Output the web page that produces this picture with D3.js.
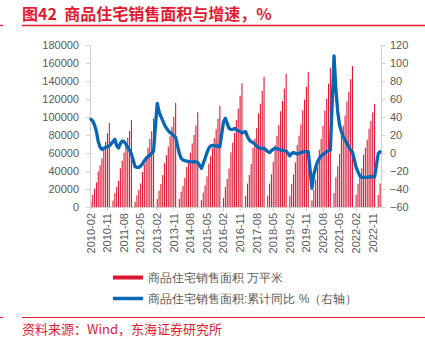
<!DOCTYPE html>
<html>
<head>
<meta charset="utf-8">
<script src="https://cdn.jsdelivr.net/npm/d3@7"></script>
<style>
  body { margin: 0; background: #fff; }
  svg { display: block; }
  text { font-family: "Liberation Sans", Arial, sans-serif; }
  .cjk { font-family: "Noto Sans CJK SC", sans-serif; }
</style>
</head>
<body>
<div id="chart"></div>
<script>
// 商品住宅销售面积（累计，万平米），每年2月至12月；1月无单独数据
const salesArea = [
  [6200, 13400, 20500, 27300, 39700, 46400, 54200, 64000, 72600, 81800, 93377],          // 2010
  [7000, 15400, 22200, 29200, 43000, 51600, 60500, 69700, 77100, 84400, 96528],          // 2011
  [5900, 12900, 18800, 26200, 39000, 47300, 56000, 66000, 75500, 84400, 98468],          // 2012
  [9100, 18100, 25600, 35600, 48700, 57700, 67100, 78500, 89000, 100400, 115723],        // 2013
  [9000, 17000, 23400, 32400, 44400, 52100, 60400, 70600, 80100, 90300, 105188],         // 2014
  [7500, 16100, 24000, 34000, 48100, 56500, 65200, 76500, 86500, 97900, 112412],         // 2015
  [10100, 22200, 31200, 42800, 60700, 71500, 82000, 96500, 109300, 123700, 137540],      // 2016
  [12500, 26000, 35600, 47700, 65600, 76000, 87700, 104000, 114800, 128900, 144789],     // 2017
  [12700, 26000, 36400, 50000, 68800, 79200, 91000, 106400, 117800, 131600, 147929],     // 2018
  [12300, 25900, 36300, 49700, 68800, 79400, 91600, 107500, 119400, 133800, 150144],     // 2019
  [7400, 19200, 30300, 44700, 63600, 75500, 90000, 107100, 120100, 137100, 154878],      // 2020
  [15400, 33000, 45300, 59000, 79300, 90300, 101700, 117000, 128000, 142000, 156532],    // 2021
  [13300, 25900, 33700, 43000, 58000, 65900, 74700, 87000, 95600, 105000, 114631],       // 2022
  [13200, 26200]                                                                         // 2023
];

// 累计同比 %（右轴）
const yoyGrowth = [
  [37.4, 35.6, 31, 23.7, 12.6, 6.3, 4.1, 5.2, 6.3, 7, 8.0],
  [12.6, 15.2, 8, 5.5, 10.7, 13.3, 12.6, 10, 6.3, 3.3, -1.1],
  [-15.2, -16, -16, -14.4, -12.2, -8.5, -5.9, -4, -2.2, -0.4, 2.0],
  [55.2, 45.9, 40.4, 36, 31.1, 27.4, 24.8, 22.6, 21.1, 18.9, 17.5],
  [-0.5, -5.9, -7.8, -8.5, -8.9, -9.6, -9.6, -10, -9.6, -10, -10.5],
  [-17, -11.5, -5.9, 0.4, 5.2, 7.8, 8.5, 7.8, 7.8, 7.8, 6.9],
  [34.8, 38.5, 33, 27.4, 26.3, 26.3, 27.4, 25.6, 24.8, 23.7, 22.4],
  [23.7, 18.1, 14.4, 12.6, 11.5, 10, 7.8, 6.3, 5.2, 5.2, 5.3],
  [1.5, 0.4, 2.6, 4.1, 5.2, 4.8, 4.1, 3.3, 3.3, 2.6, 2.2],
  [-3.2, -0.4, 0.4, -0.4, -1.1, -0.4, 0.4, 1.1, 1.5, 1.5, 1.5],
  [-39.2, -24, -16, -10, -6, -3.3, -1.5, -0.4, 1.5, 2.6, 3.2],
  [108, 70, 45.9, 31.1, 23.7, 18.1, 14.4, 10.7, 7, 3.3, 1.1],
  [-16, -21, -25.5, -27, -27, -27.2, -27, -26.5, -26.2, -26.5, -26.8],
  [-0.6, 1.4]
];

const startYear = 2010;
const tickLabels = ["2010-02", "2010-11", "2011-08", "2012-05", "2013-02", "2013-11",
  "2014-08", "2015-05", "2016-02", "2016-11", "2017-08", "2018-05", "2019-02",
  "2019-11", "2020-08", "2021-05", "2022-02", "2022-11"];
const leftTicks = d3.range(0, 180001, 20000);
const rightTicks = d3.range(-60, 121, 20);

// 按月展开：1月留空
const rows = [];
salesArea.forEach((vals, k) => {
  const year = startYear + k;
  if (k > 0) rows.push({ month: `${year}-01`, area: null, yoy: null });
  vals.forEach((v, j) => {
    const m = String(j + 2).padStart(2, "0");
    rows.push({ month: `${year}-${m}`, area: v, yoy: yoyGrowth[k][j] });
  });
});

const W = 425, H = 339;
const plotL = 90, plotR = 381, plotT = 45, plotB = 207;
const red = "#dc1530", blue = "#0866b6", gray = "#595959", axisGray = "#d0d0d0";

const svg = d3.select("#chart").append("svg").attr("width", W).attr("height", H);

// 标题
svg.append("text").attr("class", "cjk")
  .attr("x", 22).attr("y", 20)
  .attr("fill", "#e21a32").attr("font-size", 16).attr("font-weight", "bold")
  .style("white-space", "pre")
  .text("图42  商品住宅销售面积与增速，%");
svg.append("line").attr("x1", 22).attr("x2", W).attr("y1", 25.5).attr("y2", 25.5)
  .attr("stroke", "#e21a32").attr("stroke-width", 1.3);
svg.append("line").attr("x1", 0).attr("x2", 3).attr("y1", 25.5).attr("y2", 25.5)
  .attr("stroke", "#e21a32").attr("stroke-width", 1.3);

const x = d3.scaleBand().domain(rows.map(d => d.month)).range([plotL, plotR]).paddingInner(0.42).paddingOuter(0.2);
const yL = d3.scaleLinear().domain([0, 180000]).range([plotB, plotT]);
const yR = d3.scaleLinear().domain([-60, 120]).range([plotB, plotT]);

// 柱：销售面积
svg.append("g").selectAll("rect")
  .data(rows.filter(d => d.area != null))
  .join("rect")
  .attr("x", d => x(d.month))
  .attr("width", x.bandwidth())
  .attr("y", d => yL(d.area))
  .attr("height", d => yL(0) - yL(d.area))
  .attr("fill", red);

// 坐标轴
const styleAxis = g => {
  g.select(".domain").attr("stroke", axisGray);
  g.selectAll(".tick line").attr("stroke", axisGray);
  g.selectAll(".tick text").attr("fill", gray).attr("font-size", 11);
};

svg.append("g").attr("transform", `translate(${plotL},0)`)
  .call(d3.axisLeft(yL).tickValues(leftTicks).tickSize(4).tickSizeOuter(0).tickPadding(7).tickFormat(d3.format("d")))
  .call(styleAxis);

svg.append("g").attr("transform", `translate(${plotR},0)`)
  .call(d3.axisRight(yR).tickValues(rightTicks).tickSize(4).tickSizeOuter(0).tickPadding(5))
  .call(styleAxis);

const xAxis = svg.append("g").attr("transform", `translate(0,${plotB})`)
  .call(d3.axisBottom(x).tickValues(tickLabels).tickSize(4).tickSizeOuter(0).tickPadding(6))
  .call(styleAxis);
xAxis.selectAll(".tick text")
  .attr("transform", "rotate(-90)")
  .attr("text-anchor", "end")
  .attr("dy", "0.35em")
  .attr("x", -6).attr("y", 0);

// 折线：累计同比
const line = d3.line()
  .x(d => x(d.month) + x.bandwidth() / 2)
  .y(d => yR(d.yoy));
svg.append("path")
  .datum(rows.filter(d => d.yoy != null))
  .attr("d", line)
  .attr("fill", "none")
  .attr("stroke", blue)
  .attr("stroke-width", 3.3)
  .attr("stroke-linejoin", "round")
  .attr("stroke-linecap", "round");

// 图例
const legend = svg.append("g").attr("class", "cjk");
legend.append("rect").attr("x", 113).attr("y", 275.5).attr("width", 30).attr("height", 4).attr("fill", red);
legend.append("text").attr("x", 148).attr("y", 281.5).attr("font-size", 12).attr("fill", gray)
  .text("商品住宅销售面积 万平米");
legend.append("line").attr("x1", 113).attr("x2", 143).attr("y1", 298.5).attr("y2", 298.5)
  .attr("stroke", blue).attr("stroke-width", 3.5);
legend.append("text").attr("x", 148).attr("y", 302.5).attr("font-size", 12).attr("fill", gray)
  .text("商品住宅销售面积:累计同比 %（右轴）");

// 资料来源
svg.append("line").attr("x1", 22).attr("x2", W).attr("y1", 317.5).attr("y2", 317.5)
  .attr("stroke", "#e21a32").attr("stroke-width", 1);
svg.append("line").attr("x1", 0).attr("x2", 3).attr("y1", 317.5).attr("y2", 317.5)
  .attr("stroke", "#e21a32").attr("stroke-width", 1);
svg.append("text").attr("class", "cjk")
  .attr("x", 22).attr("y", 334)
  .attr("fill", "#e21a32").attr("font-size", 13)
  .text("资料来源：Wind，东海证券研究所");
</script>
</body>
</html>
